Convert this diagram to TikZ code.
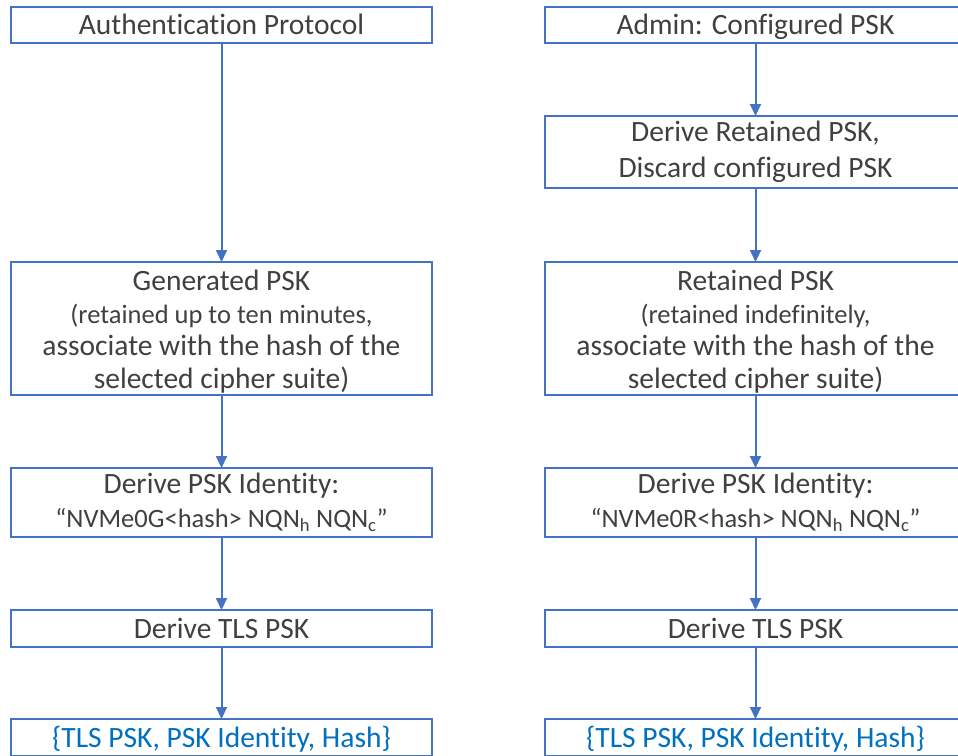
\documentclass[tikz,border=0pt]{standalone}
\usepackage{fontspec}
\setmainfont{Carlito}[Ligatures=NoCommon]
\usetikzlibrary{arrows.meta}
\definecolor{boxblue}{RGB}{68,114,196}
\definecolor{txtgray}{RGB}{64,64,64}
\definecolor{outblue}{RGB}{0,112,192}
\newcommand{\subfont}{\fontsize{26.5}{32.5}\selectfont}
\newcommand{\topstrut}{\rule{0pt}{27pt}}
\tikzset{
  flowbox/.style={draw=boxblue, line width=1.5pt, fill=white, rectangle,
    minimum width=421pt, inner sep=0pt, outer sep=0pt, align=center,
    text=txtgray, font=\fontsize{29.5}{35.5}\selectfont},
  oneline/.style={text height=19.5pt, text depth=0.5pt},
  mixedbox/.style={font=\fontsize{29.5}{32.5}\selectfont},
  identbox/.style={font=\fontsize{29.5}{34}\selectfont},
  outbox/.style={flowbox, text=outblue},
  flowarrow/.style={draw=boxblue, line width=2pt,
    -{Triangle[length=12pt,width=11pt]}}
}
\begin{document}
\begin{tikzpicture}[x=1pt,y=-1pt]
\useasboundingbox (0,0) rectangle (958,755);
\clip (0,0) rectangle (958,755);
% left column
\node[flowbox, oneline, minimum height=36pt] (a1) at (221.5,25) {Authentication Protocol};
\node[flowbox, mixedbox, minimum height=133pt] (a2) at (221.5,328.5) {\topstrut Generated PSK\\\subfont(retained up to ten minutes,\\associate with the hash of the\\selected cipher suite)};
\node[flowbox, identbox, minimum height=69pt] (a3) at (221.5,502.5) {Derive PSK Identity:\\\subfont “NVMe0G<hash> NQN\textsubscript{h} NQN\textsubscript{c}”};
\node[flowbox, oneline, minimum height=37pt] (a4) at (221.5,628.5) {Derive TLS PSK};
\node[outbox, oneline, minimum height=37pt] (a5) at (221.5,737.5) {\{TLS PSK, PSK Identity, Hash\}};
% right column
\node[flowbox, oneline, minimum height=36pt] (b1) at (755.5,25) {Admin: Configured PSK};
\node[flowbox, minimum height=72pt] (b2) at (755.5,152) {Derive Retained PSK,\\Discard configured PSK};
\node[flowbox, mixedbox, minimum height=133pt] (b3) at (755.5,328.5) {\topstrut Retained PSK\\\subfont(retained indefinitely,\\associate with the hash of the\\selected cipher suite)};
\node[flowbox, identbox, minimum height=69pt] (b4) at (755.5,502.5) {Derive PSK Identity:\\\subfont “NVMe0R<hash> NQN\textsubscript{h} NQN\textsubscript{c}”};
\node[flowbox, oneline, minimum height=37pt] (b5) at (755.5,628.5) {Derive TLS PSK};
\node[outbox, oneline, minimum height=37pt] (b6) at (755.5,737.5) {\{TLS PSK, PSK Identity, Hash\}};
% connectors
\draw[flowarrow] (a1) -- (a2);
\draw[flowarrow] (a2) -- (a3);
\draw[flowarrow] (a3) -- (a4);
\draw[flowarrow] (a4) -- (a5);
\draw[flowarrow] (b1) -- (b2);
\draw[flowarrow] (b2) -- (b3);
\draw[flowarrow] (b3) -- (b4);
\draw[flowarrow] (b4) -- (b5);
\draw[flowarrow] (b5) -- (b6);
\end{tikzpicture}
\end{document}
